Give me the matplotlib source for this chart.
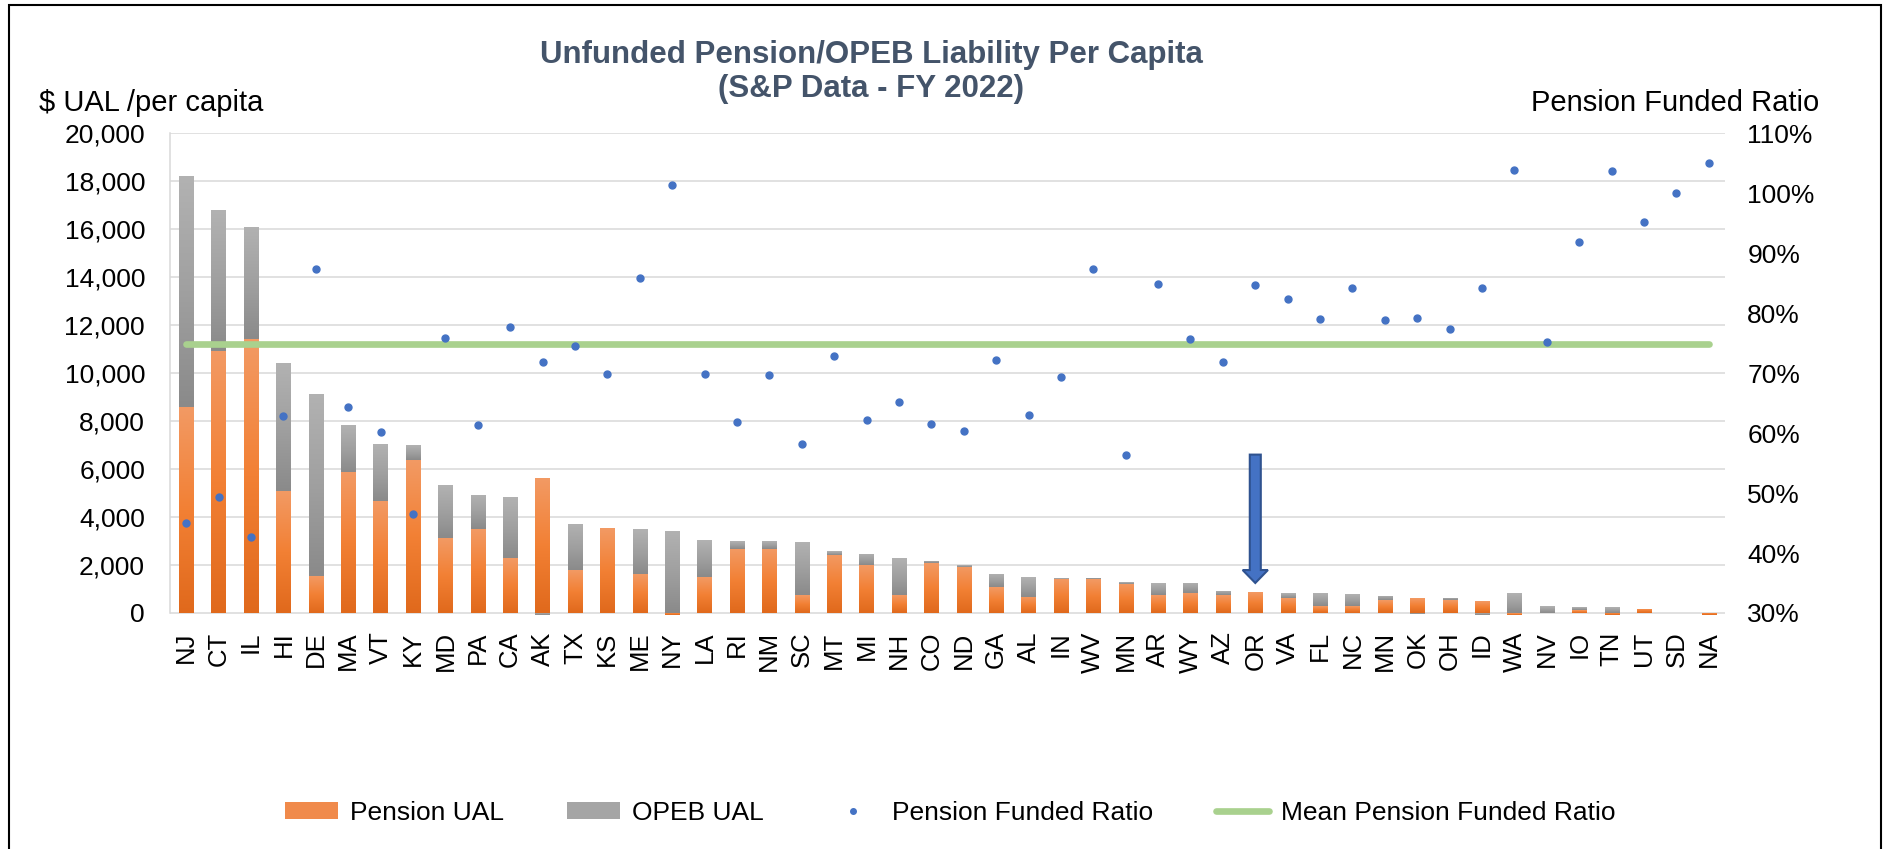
import numpy as np
import matplotlib
matplotlib.use('Agg')
import matplotlib.pyplot as plt
from matplotlib.colors import LinearSegmentedColormap
from matplotlib.patches import Patch, FancyArrow, Rectangle
from matplotlib.lines import Line2D
from matplotlib.ticker import FuncFormatter

plt.rcParams['font.family'] = ['Liberation Sans', 'DejaVu Sans']

# data ($ per capita, funded ratio in %)
states = ['NJ', 'CT', 'IL', 'HI', 'DE', 'MA', 'VT', 'KY', 'MD', 'PA', 'CA', 'AK',
          'TX', 'KS', 'ME', 'NY', 'LA', 'RI', 'NM', 'SC', 'MT', 'MI', 'NH', 'CO',
          'ND', 'GA', 'AL', 'IN', 'WV', 'MN', 'AR', 'WY', 'AZ', 'OR', 'VA', 'FL',
          'NC', 'MN', 'OK', 'OH', 'ID', 'WA', 'NV', 'IO', 'TN', 'UT', 'SD', 'NA']
pension_ual = [8580, 10930, 11400, 5080, 1540, 5875, 4670, 6375, 3125, 3500, 2290, 5625,
               1790, 3540, 1625, -100, 1500, 2670, 2670, 750, 2420, 2000, 750, 2080,
               1920, 1080, 670, 1420, 1400, 1210, 750, 830, 750, 875, 625, 290,
               290, 540, 625, 540, 500, -80, 0, 125, -100, 170, 0, -100]
opeb_ual = [9620, 5870, 4700, 5320, 7585, 1955, 2370, 625, 2205, 1420, 2540, -100,
            1920, 0, 1875, 3420, 1540, 330, 330, 2210, 160, 460, 1540, 90,
            80, 545, 830, 40, 60, 80, 500, 420, 170, 0, 205, 540,
            500, 170, -60, 85, -100, 830, 290, 125, 250, 0, 0, 0]
funded_ratio = [45.0, 49.4, 42.6, 62.8, 87.4, 64.3, 60.2, 46.5, 75.8, 61.4, 77.6, 71.8,
                74.5, 69.8, 85.9, 101.4, 69.8, 61.8, 69.6, 58.2, 72.8, 62.1, 65.2, 61.5,
                60.4, 72.2, 63.0, 69.3, 87.4, 56.3, 84.8, 75.6, 71.8, 84.6, 82.3, 79.0,
                84.2, 78.9, 79.2, 77.4, 84.1, 103.9, 75.2, 91.8, 103.7, 95.2, 100.0, 105.0]
mean_funded_ratio = 74.9

x = np.arange(len(states))
pension = np.array(pension_ual, float)
opeb = np.array(opeb_ual, float)
# excel-style stacking: negatives stack downward from zero
opeb_bottom = np.where(opeb >= 0, np.maximum(pension, 0), np.minimum(pension, 0))

fig = plt.figure(figsize=(18.89, 8.49), dpi=100)
ax = fig.add_axes([0.0900, 0.2695, 0.8232, 0.5738])
ax2 = ax.twinx()

bw = 0.44
bars_p = ax.bar(x, pension, bw, color='#F08A4B', zorder=2)
bars_o = ax.bar(x, opeb, bw, bottom=opeb_bottom, color='#A5A5A5', zorder=2)

orange_cm = LinearSegmentedColormap.from_list('orng', ['#E0691C', '#F28034', '#F39A64'])
grey_cm = LinearSegmentedColormap.from_list('gry', ['#8A8A8A', '#A0A0A0', '#B2B2B2'])
grad = np.linspace(0, 1, 256).reshape(-1, 1)


def shade(bars, cmap):
    for b in bars:
        bb = b.get_bbox()
        y0, y1 = min(bb.y0, bb.y1), max(bb.y0, bb.y1)
        if y1 - y0 <= 0:
            continue
        im = ax.imshow(grad, cmap=cmap, origin='lower', aspect='auto',
                       extent=[bb.x0, bb.x1, y0, y1], zorder=3)
        im.set_clip_path(b)


shade(bars_p, orange_cm)
shade(bars_o, grey_cm)

# arrow pointing at Oregon
ax.add_patch(FancyArrow(states.index('OR'), 6600, 0, 1250 - 6600, width=0.34,
                        head_width=0.78, head_length=540, length_includes_head=True,
                        fc='#4472C4', ec='#2F528F', lw=1.5, zorder=5))

ax.set_xlim(-0.5, len(states) - 0.5)
ax.set_ylim(-300, 20000)
ax.set_yticks(range(0, 20001, 2000))
ax.yaxis.set_major_formatter(FuncFormatter(lambda v, p: f'{int(v):,}'))
ax.set_xticks(x)
ax.set_xticklabels(states, rotation=90, fontsize=18.5)
ax.yaxis.grid(True, color='#D9D9D9', lw=1.1)
ax.set_axisbelow(True)
for s in ['top', 'right', 'bottom']:
    ax.spines[s].set_visible(False)
ax.spines['left'].set_color('#D9D9D9')
ax.spines['left'].set_linewidth(1.1)
ax.spines['left'].set_bounds(0, 20000)
ax.tick_params(axis='y', length=0, labelsize=19, pad=18)
ax.tick_params(axis='x', length=0, pad=8)

ax2.plot(x, [mean_funded_ratio] * len(x), color='#A9D18E', lw=4.8,
         solid_capstyle='round', zorder=3)
ax2.plot(x, funded_ratio, 'o', ms=5, color='#4472C4', ls='none', zorder=4)
ax2.set_ylim(30 - 300 * 80 / 20000, 110)
ax2.set_yticks(range(30, 111, 10))
ax2.yaxis.set_major_formatter(FuncFormatter(lambda v, p: f'{int(v)}%'))
ax2.tick_params(axis='y', length=0, labelsize=19, pad=16)
for s in ax2.spines.values():
    s.set_visible(False)

fig.text(0.4611, 0.9150, 'Unfunded Pension/OPEB Liability Per Capita\n(S&P Data - FY 2022)',
         ha='center', va='center', fontsize=22.5, fontweight='bold', color='#44546A',
         linespacing=1.2)
fig.text(39 / 1889, 1 - 103 / 849, r'\$ UAL /per capita', ha='left', va='center', fontsize=21)
fig.text(1819 / 1889, 1 - 103 / 849, 'Pension Funded Ratio', ha='right', va='center', fontsize=21)

handles = [Patch(facecolor='#F08A4B'), Patch(facecolor='#A5A5A5'),
           Line2D([], [], marker='o', ls='none', ms=4, color='#4472C4'),
           Line2D([], [], color='#A9D18E', lw=4.8, solid_capstyle='round')]
labels = ['Pension UAL', 'OPEB UAL', 'Pension Funded Ratio', 'Mean Pension Funded Ratio']
fig.legend(handles, labels, loc='center', bbox_to_anchor=(0.503, 0.0424), ncol=4,
           frameon=False, fontsize=19, handlelength=2.0, handletextpad=0.45,
           columnspacing=2.4, handleheight=0.6)

# outer frame (bottom edge runs off the image)
fig.add_artist(Rectangle((9 / 1889, -0.05), (1881 - 9) / 1889, 1 - 5 / 849 + 0.05,
                         transform=fig.transFigure, fill=False, ec='black', lw=1.5))

fig.savefig('out.png', dpi=100)
